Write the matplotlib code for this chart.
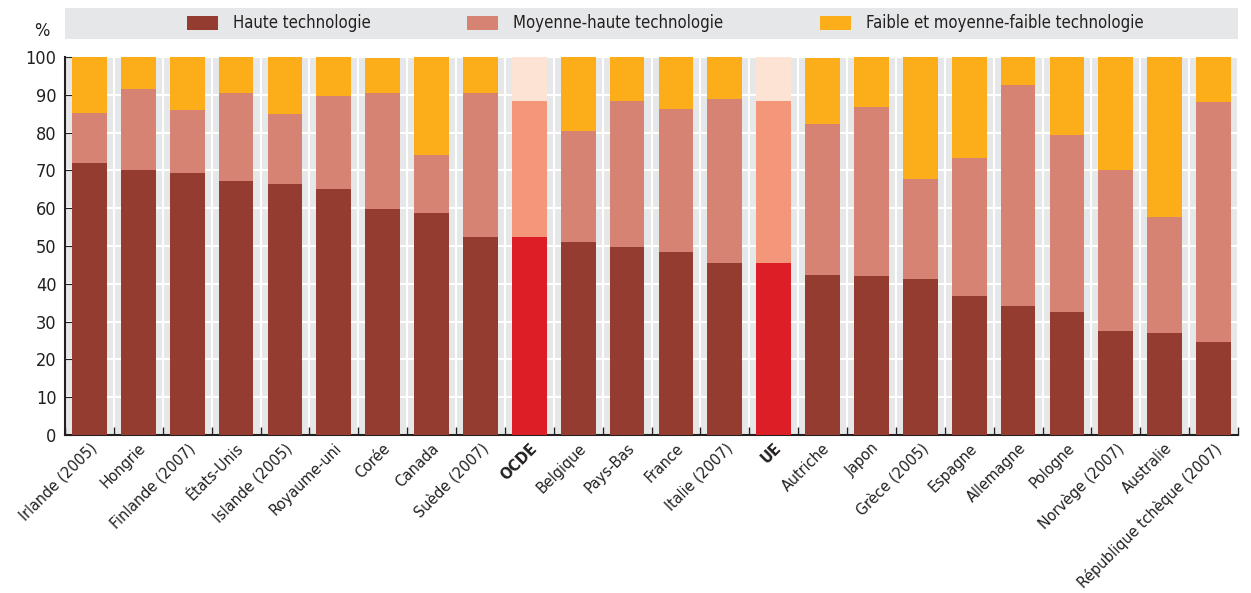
import matplotlib
matplotlib.use("Agg")
import matplotlib.pyplot as plt
import numpy as np
from matplotlib.patches import Patch, Rectangle

countries = ["Irlande (2005)", "Hongrie", "Finlande (2007)", "États-Unis", "Islande (2005)",
             "Royaume-uni", "Corée", "Canada", "Suède (2007)", "OCDE", "Belgique", "Pays-Bas",
             "France", "Italie (2007)", "UE", "Autriche", "Japon", "Grèce (2005)", "Espagne",
             "Allemagne", "Pologne", "Norvège (2007)", "Australie", "République tchèque (2007)"]
haute = [71.9, 70.2, 69.2, 67.3, 66.5, 65.0, 59.7, 58.6, 52.5, 52.4, 51.0, 49.8,
         48.5, 45.6, 45.5, 42.4, 42.1, 41.3, 36.8, 34.1, 32.6, 27.5, 27.0, 24.6]
moyenne_haute = [13.4, 21.3, 16.9, 23.3, 18.3, 24.8, 30.9, 15.4, 37.9, 36.0, 29.5, 38.5,
                 37.7, 43.2, 42.9, 39.8, 44.7, 26.3, 36.5, 58.4, 46.7, 42.5, 30.7, 63.4]
faible = [14.7, 8.5, 13.9, 9.4, 15.2, 10.2, 9.2, 26.0, 9.6, 11.6, 19.5, 11.7,
          13.8, 11.2, 11.6, 17.6, 13.2, 32.4, 26.7, 7.5, 20.7, 30.0, 42.3, 12.0]
legend_labels = ["Haute technologie", "Moyenne-haute technologie", "Faible et moyenne-faible technologie"]
highlight = ["OCDE", "UE"]

plt.rcParams['font.family'] = ["DejaVu Sans"]
plt.rcParams['font.stretch'] = 'condensed'

c_norm = ["#943c2f", "#d68373", "#fbae1a"]
c_high = ["#dd1e26", "#f4967a", "#fde3d3"]
txt = "#231f20"

fig = plt.figure(figsize=(12.51, 5.93), dpi=100)
ax = fig.add_axes([65/1251, 1-435/593, (1238-65)/1251, (435-57)/593])

x = np.arange(len(countries))
h = np.array(haute); m = np.array(moyenne_haute); f = np.array(faible)
isH = np.array([c in highlight for c in countries])
w = 0.71
for i in range(len(countries)):
    cols = c_high if isH[i] else c_norm
    ax.bar(x[i], h[i], w, color=cols[0], zorder=3)
    ax.bar(x[i], m[i], w, bottom=h[i], color=cols[1], zorder=3)
    ax.bar(x[i], f[i], w, bottom=h[i]+m[i], color=cols[2], zorder=3)

ax.set_facecolor("#e6e7e8")
ax.set_xlim(-0.5, len(countries)-0.5)
ax.set_ylim(0, 100)
ax.set_yticks(np.arange(0, 101, 10))
ax.set_xticks(x)
ax.set_xticks(np.arange(-0.5, len(countries), 1), minor=True)
ax.set_xticklabels(countries, rotation=45, ha='right', rotation_mode='anchor', fontsize=11.5, color=txt)
for lbl in ax.get_xticklabels():
    if lbl.get_text() in highlight:
        lbl.set_fontweight('bold')
ax.tick_params(axis='x', which='major', length=0, pad=4)
ax.tick_params(axis='x', which='minor', direction='in', length=6, width=1, color=txt)
ax.tick_params(axis='y', direction='in', length=5, labelsize=13, color=txt, labelcolor=txt, pad=6)
ax.grid(axis='y', color='white', lw=1.5, zorder=1)
ax.grid(axis='x', which='minor', color='white', lw=1.5, zorder=1)
for s in ['top', 'right']:
    ax.spines[s].set_visible(False)
ax.spines['left'].set_color(txt)
ax.spines['bottom'].set_color(txt)
ax.spines['left'].set_linewidth(1.5)
ax.spines['bottom'].set_linewidth(1.5)

fig.text(42/1251, 1-31/593, "%", fontsize=13, ha='center', va='center', color=txt)

fig.patches.append(Rectangle((65/1251, 1-39/593), (1238-65)/1251, 31/593,
                             transform=fig.transFigure, facecolor="#e6e7e8", edgecolor='none', zorder=0))
handles = [Patch(facecolor=c, edgecolor='none') for c in c_norm]
fig.legend(handles, legend_labels, loc='center', bbox_to_anchor=(665/1251, 1-23.5/593), ncol=3,
           frameon=False, fontsize=12, handlelength=1.85, handleheight=0.95, columnspacing=5.8,
           handletextpad=0.9, labelcolor=txt, borderpad=0, borderaxespad=0)

fig.savefig("out.png", dpi=100)
